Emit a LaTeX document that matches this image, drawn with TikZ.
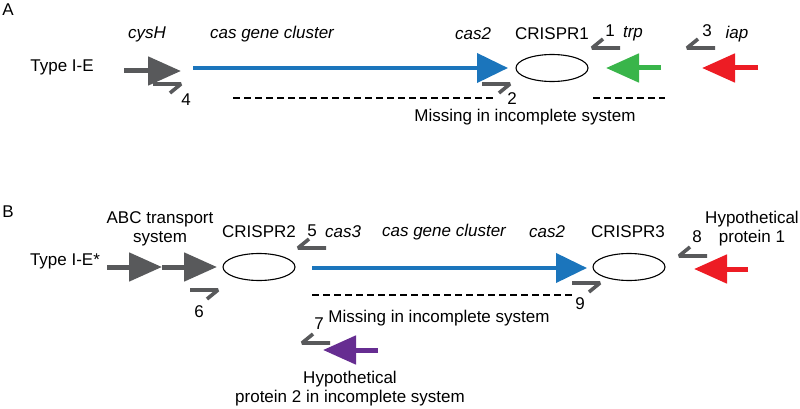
\documentclass[tikz,border=0pt]{standalone}
\usepackage{fontspec}
\setmainfont{Liberation Sans}
\usetikzlibrary{arrows.meta,shapes.geometric}
\definecolor{genegray}{RGB}{88,89,91}
\definecolor{geneblue}{RGB}{27,117,188}
\definecolor{genegreen}{RGB}{57,181,74}
\definecolor{genered}{RGB}{237,28,36}
\definecolor{genepurple}{RGB}{102,45,145}
\tikzset{
  lbl/.style={font=\fontsize{17}{20}\selectfont, inner sep=0pt, align=center},
  ilbl/.style={lbl, font=\fontsize{17}{20}\selectfont\itshape},
  genearrow/.style={draw=#1, line width=5pt, -{Triangle[length=33pt,width=28pt,fill=#1]}},
  bluearrow/.style={draw=geneblue, line width=4pt, -{Triangle[length=31pt,width=29pt,fill=geneblue]}},
  crispr/.style={draw=black, line width=1.1pt, ellipse, minimum width=72pt, minimum height=27pt, inner sep=0pt},
  missline/.style={draw=black, line width=2pt, dash pattern=on 7pt off 4pt},
  primerline/.style={draw=genegray, line width=3.6pt, line join=bevel},
  pics/primerR/.style={code={\draw[primerline] (-28,0) -- (0,0) -- (-11,9);}},
  pics/primerL/.style={code={\draw[primerline] (28,0) -- (0,0) -- (11,-9);}},
}
\begin{document}
\begin{tikzpicture}[x=1pt,y=-1pt]
\useasboundingbox (0,0) rectangle (800,409);
% ---------- Panel A ----------
\node[lbl] (A) at (8,10) {A};
\node[lbl] (typeA) at (62,67) {Type I-E};
\node[ilbl] (cysH) at (147,34) {cysH};
\node[ilbl] (clusterA) at (272,34) {cas gene cluster};
\node[ilbl] (cas2A) at (473,34) {cas2};
\node[lbl] (crA) at (552,34) {CRISPR1};
\node[lbl] (n1) at (610,31) {1};
\node[ilbl] (trp) at (633,34) {trp};
\node[lbl] (n3) at (707,31) {3};
\node[ilbl] (iap) at (737,34) {iap};
\node[lbl] (n4) at (186,100) {4};
\node[lbl] (n2) at (512,99) {2};
\node[lbl] (missA) at (525,117) {Missing in incomplete system};

\coordinate (cysS) at (124,71); \coordinate (cysE) at (181,71);
\draw[genearrow=genegray] (cysS) -- (cysE);
\coordinate (blAS) at (193,68); \coordinate (blAE) at (508,68);
\draw[bluearrow] (blAS) -- (blAE);
\node[crispr] (cr1) at (552,68) {};
\coordinate (grS) at (661,68); \coordinate (grE) at (606,68);
\draw[genearrow=genegreen] (grS) -- (grE);
\coordinate (rdAS) at (758,68); \coordinate (rdAE) at (702,68);
\draw[genearrow=genered] (rdAS) -- (rdAE);

\pic (p4) at (181,84) {primerR};
\pic (p2) at (510,84) {primerR};
\pic (p1) at (592,48) {primerL};
\pic (p3) at (687,48) {primerL};

\coordinate (dA1s) at (233,98); \coordinate (dA1e) at (495,98);
\draw[missline] (dA1s) -- (dA1e);
\coordinate (dA2s) at (593,98); \coordinate (dA2e) at (665,98);
\draw[missline] (dA2s) -- (dA2e);

% ---------- Panel B ----------
\node[lbl] (B) at (8,212) {B};
\node[lbl] (typeB) at (65,261) {Type I-E*};
\node[lbl] (abc) at (160,229) {ABC transport\\[-1pt]system};
\node[lbl] (crB2) at (259,232) {CRISPR2};
\node[lbl] (n5) at (312,231) {5};
\node[ilbl] (cas3) at (343,232) {cas3};
\node[ilbl] (clusterB) at (444,232) {cas gene cluster};
\node[ilbl] (cas2B) at (547,232) {cas2};
\node[lbl] (crB3) at (628,232) {CRISPR3};
\node[lbl] (n8) at (697,237) {8};
\node[lbl] (hyp1) at (752,229) {Hypothetical\\[-1pt]protein 1};
\node[lbl] (n6) at (199,312) {6};
\node[lbl] (n9) at (580,304) {9};
\node[lbl] (n7) at (319,324) {7};
\node[lbl] (missB) at (439,318) {Missing in incomplete system};
\node[lbl] (hyp2) at (350,389) {Hypothetical\\[-1pt]protein 2 in incomplete system};

\coordinate (g1S) at (107,267); \coordinate (g1E) at (162,267);
\draw[genearrow=genegray] (g1S) -- (g1E);
\coordinate (g2S) at (162,267); \coordinate (g2E) at (217,267);
\draw[genearrow=genegray] (g2S) -- (g2E);
\node[crispr] (cr2) at (259,267) {};
\coordinate (blBS) at (312,268); \coordinate (blBE) at (587,268);
\draw[bluearrow] (blBS) -- (blBE);
\node[crispr] (cr3) at (629,267) {};
\coordinate (rdBS) at (748,269); \coordinate (rdBE) at (694,269);
\draw[genearrow=genered] (rdBS) -- (rdBE);
\coordinate (puS) at (378,350); \coordinate (puE) at (323,350);
\draw[genearrow=genepurple] (puS) -- (puE);

\pic (p6) at (218,290) {primerR};
\pic (p9) at (600,283) {primerR};
\pic (p5) at (298,248) {primerL};
\pic (p8) at (679,256) {primerL};
\pic (p7) at (302,343) {primerL};

\coordinate (dBs) at (312,295); \coordinate (dBe) at (574,295);
\draw[missline] (dBs) -- (dBe);
\end{tikzpicture}
\end{document}
